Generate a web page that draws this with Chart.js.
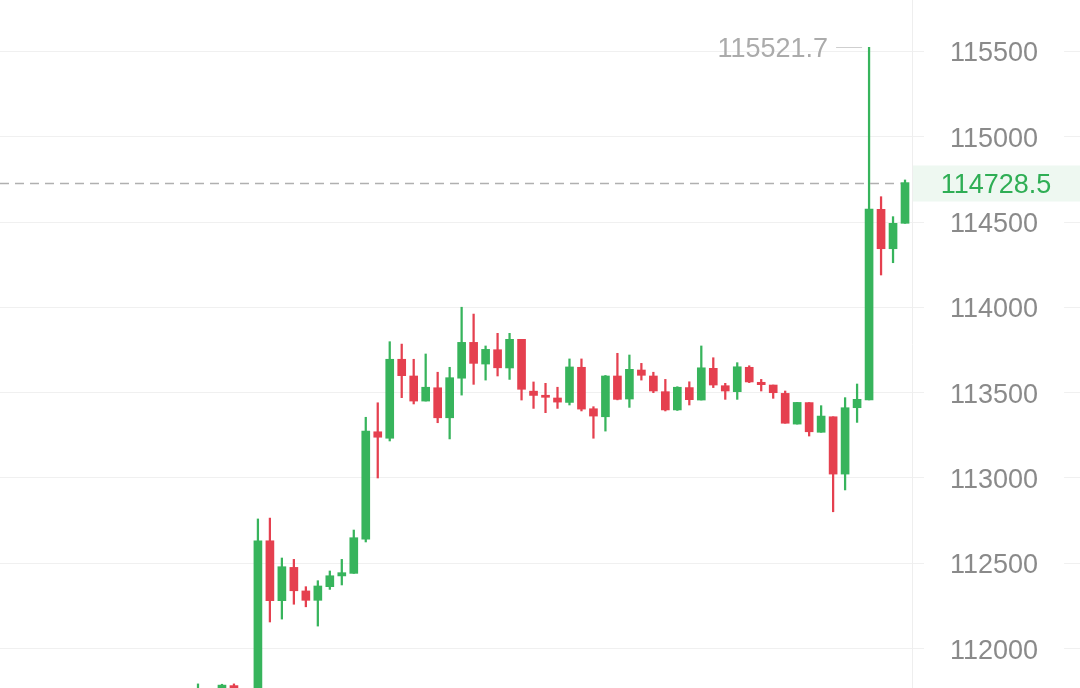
<!DOCTYPE html>
<html>
<head>
<meta charset="utf-8">
<script src="https://cdn.jsdelivr.net/npm/chart.js@4.4.1/dist/chart.umd.min.js"></script>
<style>
  html, body { margin: 0; padding: 0; background: #fff; }
  #wrap { width: 1080px; height: 688px; position: relative; }
</style>
</head>
<body>
<div id="wrap"><canvas id="kline"></canvas></div>
<script>
// candle data (oldest -> newest)
const opens  = [111660, 111730, 111700, 111780, 111720, 111745, 112629, 112278, 112473, 112335,
                112280, 112360, 112423, 112438, 112638, 113268, 113230, 113693, 113595, 113448,
                113526, 113350, 113582, 113792, 113665, 113749, 113642, 113810, 113506, 113482,
                113466, 113440, 113646, 113403, 113356, 113595, 113460, 113630, 113595, 113503,
                113396, 113527, 113454, 113640, 113538, 113503, 113646, 113558, 113542, 113493,
                113313, 113439, 113265, 113356, 113020, 113409, 113454, 114572, 114341, 114490];
const highs  = [111790, 111750, 111788, 111790, 111760, 112757, 112762, 112528, 112520, 112360,
                112395, 112452, 112520, 112692, 113353, 113438, 113796, 113782, 113693, 113724,
                113617, 113646, 113998, 113958, 113771, 113845, 113845, 113810, 113560, 113552,
                113529, 113695, 113695, 113415, 113598, 113728, 113718, 113669, 113617, 113575,
                113532, 113561, 113771, 113702, 113552, 113673, 113655, 113575, 113542, 113507,
                113440, 113439, 113421, 113356, 113468, 113548, 115521.7, 114646, 114529, 114744];
const lows   = [111620, 111680, 111680, 111700, 111700, 111730, 112153, 112170, 112257, 112242,
                112129, 112344, 112370, 112438, 112622, 112997, 113214, 113468, 113431, 113448,
                113321, 113226, 113483, 113546, 113571, 113595, 113575, 113454, 113405, 113380,
                113405, 113425, 113390, 113230, 113272, 113455, 113411, 113571, 113497, 113390,
                113393, 113425, 113454, 113527, 113458, 113458, 113556, 113507, 113464, 113318,
                113313, 113243, 113265, 112799, 112927, 113323, 113454, 114187, 114259, 114490];
const closes = [111745, 111700, 111783, 111720, 111745, 112629, 112278, 112477, 112336, 112280,
                112364, 112424, 112442, 112647, 113272, 113236, 113693, 113597, 113448, 113529,
                113350, 113585, 113792, 113669, 113751, 113643, 113810, 113517, 113481, 113470,
                113442, 113648, 113401, 113360, 113595, 113458, 113634, 113599, 113507, 113396,
                113529, 113456, 113643, 113542, 113507, 113649, 113560, 113544, 113497, 113318,
                113440, 113268, 113360, 113020, 113409, 113458, 114574, 114341, 114490, 114728.5];

const yTicks = [112000, 112500, 113000, 113500, 114000, 114500, 115000, 115500];
const lastPrice = 114728.5;
const maxPrice = 115521.7;

const GREEN = '#37b45c';
const RED = '#e5404f';
const candleColors = opens.map((o, i) => closes[i] >= o ? GREEN : RED);

const bodies = opens.map((o, i) => ({ x: i, y: [o, closes[i]] }));
const wicks = opens.map((o, i) => ({ x: i, y: [lows[i], highs[i]] }));

const FONT = "'Liberation Sans', Arial, sans-serif";

// horizontal grid lines across the whole width, drawn before the scale labels
const fullGrid = {
    id: 'fullGrid',
    beforeDraw(chart) {
        const { ctx, width, scales } = chart;
        ctx.save();
        ctx.strokeStyle = '#f0f0f0';
        ctx.lineWidth = 1;
        yTicks.forEach(v => {
            const y = Math.round(scales.y.getPixelForValue(v)) + 0.5;
            ctx.beginPath();
            ctx.moveTo(0, y);
            ctx.lineTo(width, y);
            ctx.stroke();
        });
        ctx.restore();
    }
};

// last price dashed line + tag, and the max-high marker
const priceMarks = {
    id: 'priceMarks',
    afterDraw(chart) {
        const { ctx, width, chartArea, scales } = chart;
        const xs = scales.x, ys = scales.y;
        ctx.save();

        // last price
        const py = Math.round(ys.getPixelForValue(lastPrice)) + 0.5;
        const lastX = xs.getPixelForValue(closes.length - 1);
        ctx.strokeStyle = '#b0b0b0';
        ctx.lineWidth = 1.5;
        ctx.setLineDash([9, 6]);
        ctx.beginPath();
        ctx.moveTo(chartArea.left, py);
        ctx.lineTo(lastX - 4, py);
        ctx.stroke();
        ctx.setLineDash([]);

        ctx.fillStyle = '#eef8f1';
        ctx.fillRect(chartArea.right + 1, py - 18, width - chartArea.right, 36);
        ctx.fillStyle = '#2fae55';
        ctx.font = '27px ' + FONT;
        ctx.textAlign = 'center';
        ctx.textBaseline = 'middle';
        ctx.fillText(lastPrice.toFixed(1), (chartArea.right + width) / 2, py + 2);

        // highest high
        const hi = highs.indexOf(maxPrice);
        const hx = xs.getPixelForValue(hi);
        const hy = Math.round(ys.getPixelForValue(maxPrice)) + 0.5;
        ctx.strokeStyle = '#cfcfcf';
        ctx.lineWidth = 1;
        ctx.beginPath();
        ctx.moveTo(hx - 33, hy);
        ctx.lineTo(hx - 7, hy);
        ctx.stroke();
        ctx.fillStyle = '#ababab';
        ctx.textAlign = 'right';
        ctx.fillText(maxPrice.toFixed(1), hx - 41, hy + 2);

        ctx.restore();
    }
};

new Chart(document.getElementById('kline'), {
    type: 'bar',
    data: {
        datasets: [
            {
                label: 'body',
                data: bodies,
                backgroundColor: candleColors,
                barThickness: 8,
                minBarLength: 2,
                grouped: false,
                order: 0
            },
            {
                label: 'wick',
                data: wicks,
                backgroundColor: candleColors,
                barThickness: 1.6,
                grouped: false,
                order: 1
            }
        ]
    },
    options: {
        responsive: true,
        maintainAspectRatio: false,
        animation: false,
        layout: { padding: 0 },
        plugins: {
            legend: { display: false },
            tooltip: { enabled: false }
        },
        scales: {
            x: {
                type: 'linear',
                display: false,
                offset: false,
                min: -16.523,
                max: 59.583
            },
            y: {
                type: 'linear',
                position: 'right',
                min: 111766,
                max: 115799,
                afterBuildTicks: (scale) => {
                    scale.ticks = yTicks.map(v => ({ value: v }));
                },
                afterFit: (scale) => {
                    scale.width = 168;
                    scale.paddingTop = 0;
                    scale.paddingBottom = 0;
                },
                grid: { display: false, drawTicks: false },
                border: { display: true, color: '#eeeeee', width: 1 },
                ticks: {
                    padding: 38,
                    crossAlign: 'near',
                    labelOffset: 3,
                    color: '#8a8a8a',
                    font: { size: 27, family: FONT },
                    showLabelBackdrop: true,
                    backdropColor: '#ffffff',
                    backdropPadding: { x: 26, y: 4 },
                    callback: (v) => String(v)
                }
            }
        }
    },
    plugins: [fullGrid, priceMarks]
});
</script>
</body>
</html>
